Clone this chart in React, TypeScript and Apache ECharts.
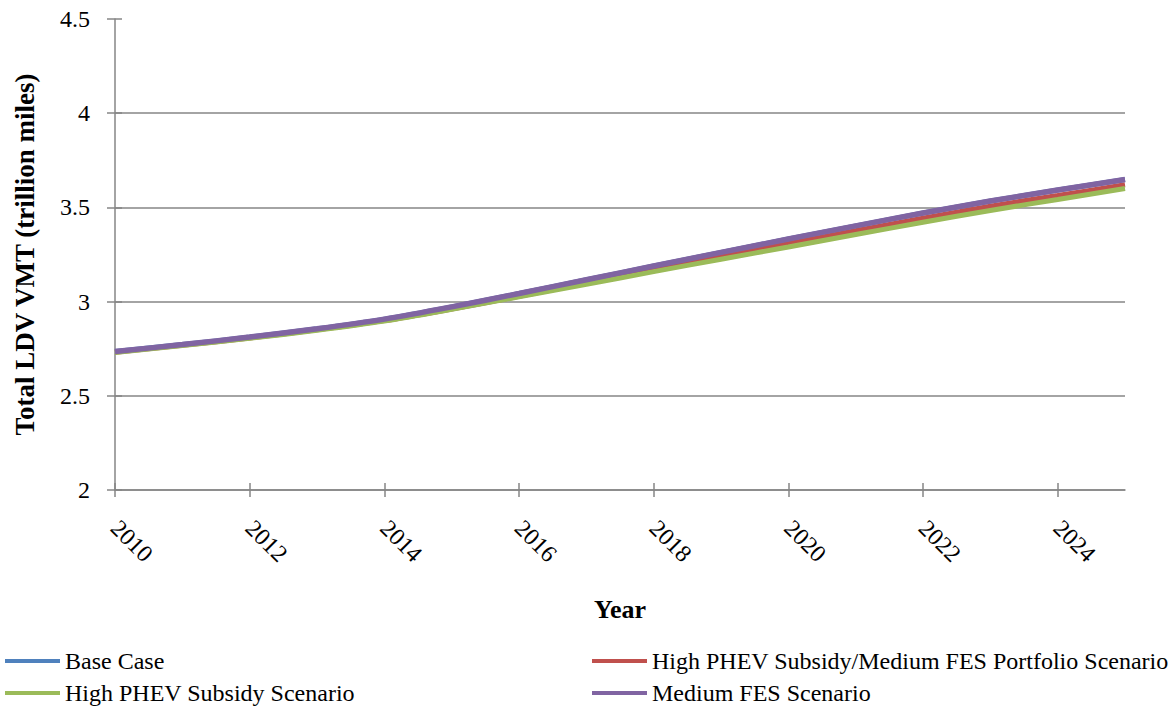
import React, { useEffect, useRef } from "react";
import * as echarts from "echarts";

const years = [
  "2010", "2011", "2012", "2013", "2014", "2015", "2016", "2017",
  "2018", "2019", "2020", "2021", "2022", "2023", "2024", "2025",
];

const baseCase = [
  2.735, 2.772, 2.812, 2.856, 2.907, 2.972, 3.043, 3.116,
  3.189, 3.261, 3.332, 3.402, 3.47, 3.534, 3.592, 3.648,
];
const highPhevMedFes = [
  2.731, 2.768, 2.807, 2.85, 2.899, 2.961, 3.028, 3.097,
  3.167, 3.237, 3.307, 3.376, 3.443, 3.506, 3.563, 3.62,
];
const highPhev = [
  2.73, 2.767, 2.805, 2.848, 2.897, 2.959, 3.025, 3.092,
  3.159, 3.225, 3.29, 3.356, 3.421, 3.484, 3.542, 3.6,
];
const mediumFes = [
  2.735, 2.772, 2.812, 2.856, 2.907, 2.972, 3.043, 3.116,
  3.189, 3.261, 3.332, 3.402, 3.47, 3.534, 3.592, 3.648,
];

const seriesNames = [
  "Base Case",
  "High PHEV Subsidy/Medium FES Portfolio Scenario",
  "High PHEV Subsidy Scenario",
  "Medium FES Scenario",
];
const seriesColors = ["#4F81BD", "#C0504D", "#9BBB59", "#8064A2"];

const yMin = 2;
const yMax = 4.5;
const yStep = 0.5;

const FONT = "Liberation Serif";
const AXIS_GRAY = "#868686";

export default function App() {
  const ref = useRef<HTMLDivElement>(null);

  useEffect(() => {
    document.body.style.margin = "0";
    const chart = echarts.init(ref.current!, null, { renderer: "svg" });
    const seriesData = [baseCase, highPhevMedFes, highPhev, mediumFes];
    const widths = [5, 5, 5, 5.5];
    // legend slots: [left, top] for each series, in series order
    const legendSlots = [
      [5, 649],
      [592, 649],
      [5, 681],
      [592, 681],
    ];

    chart.setOption({
      animation: false,
      backgroundColor: "#ffffff",
      textStyle: { fontFamily: FONT, color: "#000" },
      grid: { left: 115, right: 49, top: 19, bottom: 219, containLabel: false },
      legend: seriesNames.map((name, i) => ({
        data: [name],
        orient: "horizontal",
        left: legendSlots[i][0],
        top: legendSlots[i][1],
        padding: 0,
        itemWidth: 55,
        itemHeight: 4,
        icon: "rect",
        selectedMode: false,
        textStyle: { fontFamily: FONT, fontSize: 24, color: "#000", lineHeight: 24 },
      })),
      xAxis: [
        {
          type: "category",
          data: years,
          boundaryGap: false,
          name: "Year",
          nameLocation: "middle",
          nameGap: 106,
          nameTextStyle: { fontFamily: FONT, fontSize: 26, fontWeight: "bold", color: "#000" },
          axisLine: { show: true, lineStyle: { color: AXIS_GRAY, width: 1.5 } },
          axisTick: { show: true, interval: 1, length: 7, lineStyle: { color: AXIS_GRAY, width: 1.5 } },
          axisLabel: { interval: 1, rotate: -45, margin: 34, fontSize: 24, color: "#000", fontFamily: FONT },
          splitLine: { show: false },
        },
        {
          type: "category",
          data: years,
          boundaryGap: false,
          position: "bottom",
          axisLine: { show: false },
          axisTick: { show: true, inside: true, interval: 1, length: 7, lineStyle: { color: AXIS_GRAY, width: 1.5 } },
          axisLabel: { show: false },
          splitLine: { show: false },
        },
      ],
      yAxis: [
        {
          type: "value",
          min: yMin,
          max: yMax,
          interval: yStep,
          position: "left",
          name: "Total LDV VMT (trillion miles)",
          nameLocation: "middle",
          nameGap: 77,
          nameTextStyle: { fontFamily: FONT, fontSize: 27, fontWeight: "bold", color: "#000" },
          axisLine: { show: true, lineStyle: { color: AXIS_GRAY, width: 1.5 } },
          axisTick: { show: true, length: 8, lineStyle: { color: AXIS_GRAY, width: 1.5 } },
          axisLabel: { margin: 25, fontSize: 24, color: "#000", fontFamily: FONT },
          splitLine: {
            show: true,
            lineStyle: {
              color: [AXIS_GRAY, AXIS_GRAY, AXIS_GRAY, AXIS_GRAY, AXIS_GRAY, "transparent"],
              width: 1.5,
            },
          },
        },
        {
          type: "value",
          min: yMin,
          max: yMax,
          interval: yStep,
          position: "left",
          axisLine: { show: false },
          axisTick: { show: true, inside: true, length: 7, lineStyle: { color: AXIS_GRAY, width: 1.5 } },
          axisLabel: { show: false },
          splitLine: { show: false },
        },
      ],
      series: seriesNames.map((name, i) => ({
        name,
        type: "line",
        xAxisIndex: 0,
        yAxisIndex: 0,
        data: seriesData[i],
        smooth: 0.3,
        showSymbol: false,
        symbol: "none",
        color: seriesColors[i],
        lineStyle: { color: seriesColors[i], width: widths[i] },
        z: 2 + i,
      })),
    });

    return () => chart.dispose();
  }, []);

  return <div ref={ref} style={{ width: 1174, height: 709 }} />;
}
